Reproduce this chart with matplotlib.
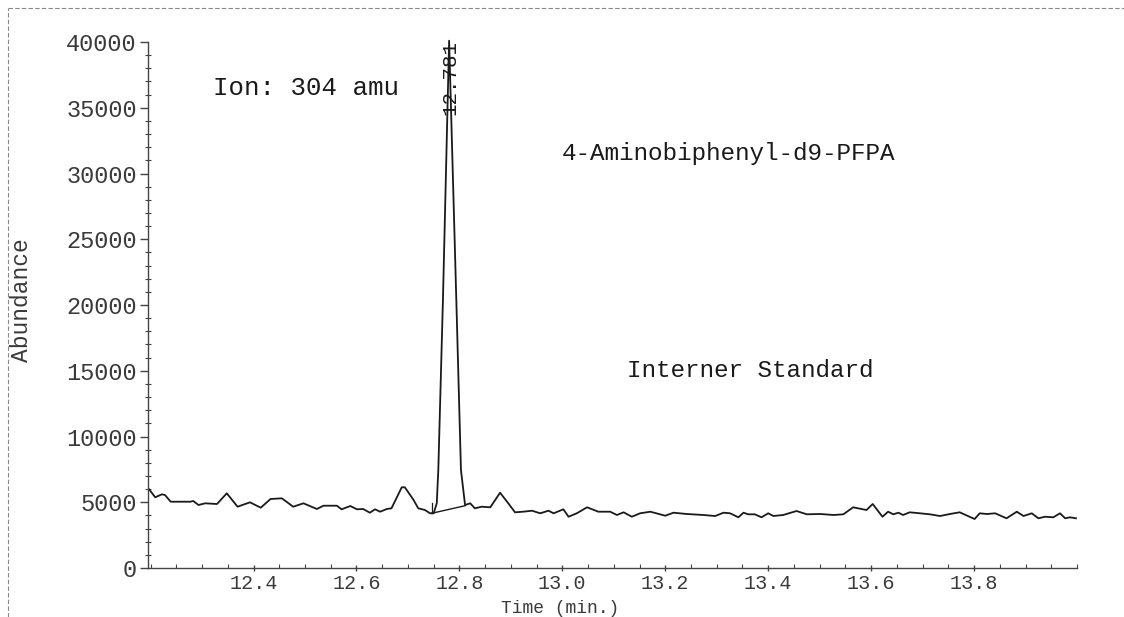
import matplotlib.pyplot as plt
from matplotlib.ticker import MultipleLocator, FixedLocator
from matplotlib.lines import Line2D

# chromatogram trace, ion 304 amu
time_min = [12.197, 12.209, 12.222, 12.228, 12.239, 12.277, 12.283, 12.293, 12.306, 12.329,
            12.348, 12.369, 12.393, 12.414, 12.433, 12.455, 12.477, 12.497, 12.523, 12.536,
            12.562, 12.571, 12.588, 12.601, 12.613, 12.626, 12.636, 12.646, 12.659, 12.668,
            12.688, 12.694, 12.711, 12.720, 12.733, 12.743, 12.750, 12.756, 12.759, 12.768,
            12.780, 12.794, 12.803, 12.811, 12.821, 12.830, 12.843, 12.860, 12.879, 12.895,
            12.908, 12.924, 12.941, 12.957, 12.973, 12.983, 13.002, 13.012, 13.028, 13.048,
            13.070, 13.093, 13.106, 13.119, 13.135, 13.151, 13.171, 13.200, 13.216, 13.242,
            13.274, 13.297, 13.313, 13.326, 13.342, 13.352, 13.361, 13.374, 13.387, 13.400,
            13.410, 13.429, 13.455, 13.475, 13.501, 13.527, 13.546, 13.565, 13.591, 13.603,
            13.622, 13.633, 13.643, 13.653, 13.662, 13.675, 13.695, 13.714, 13.734, 13.753,
            13.772, 13.788, 13.801, 13.811, 13.825, 13.841, 13.863, 13.883, 13.896, 13.912,
            13.925, 13.938, 13.954, 13.967, 13.977, 13.986, 13.998]
abundance = [5985, 5377, 5605, 5550, 5042, 5042, 5095, 4791, 4920, 4867,
             5681, 4662, 4996, 4586, 5247, 5301, 4662, 4920, 4487, 4738,
             4738, 4464, 4715, 4464, 4487, 4206, 4464, 4282, 4487, 4540,
             6137, 6137, 5171, 4540, 4411, 4160, 4160, 4920, 7453, 20381,
             40100, 20381, 7453, 4791, 4920, 4540, 4662, 4616, 5727, 4920,
             4236, 4282, 4358, 4160, 4358, 4160, 4464, 3901, 4160, 4616,
             4282, 4282, 4031, 4236, 3901, 4160, 4282, 3977, 4206, 4107,
             4031, 3955, 4206, 4160, 3856, 4206, 4084, 4084, 3856, 4160,
             3955, 4031, 4335, 4084, 4107, 4031, 4084, 4616, 4411, 4867,
             3901, 4282, 4084, 4206, 4031, 4236, 4160, 4084, 3955, 4107,
             4236, 3955, 3726, 4160, 4107, 4160, 3780, 4282, 3955, 4160,
             3780, 3901, 3856, 4160, 3780, 3856, 3780]

# integration baseline under the peak
base_t = [12.746, 12.811]
base_y = [4160, 4738]
peak_rt = 12.781

x_ticks = [12.4, 12.6, 12.8, 13.0, 13.2, 13.4, 13.6, 13.8]
y_ticks = [0, 5000, 10000, 15000, 20000, 25000, 30000, 35000, 40000]

mono = ['Liberation Mono', 'DejaVu Sans Mono']
ink = '#1a1a1a'
grey = '#3a3a3a'

fig = plt.figure(figsize=(11.24, 6.17), dpi=100)
ax = fig.add_axes([0.1317, 0.0794, 0.8265, 0.8525])

ax.plot(time_min, abundance, color=ink, lw=1.3, clip_on=False)
ax.plot(base_t, base_y, color=ink, lw=1.0)
# start-of-peak marker
ax.plot([base_t[0], base_t[0]], [base_y[0], base_y[0] + 800], color=ink, lw=0.9)

ax.set_xlim(12.195, 14.0)
ax.set_ylim(0, 40000)

for s in ['top', 'right']:
    ax.spines[s].set_visible(False)
for s in ['left', 'bottom']:
    ax.spines[s].set_color('#444444')
    ax.spines[s].set_linewidth(1.0)

ax.xaxis.set_major_locator(FixedLocator(x_ticks))
ax.xaxis.set_minor_locator(MultipleLocator(0.05))
ax.yaxis.set_major_locator(FixedLocator(y_ticks))
ax.yaxis.set_minor_locator(MultipleLocator(1000))
ax.set_xticklabels(['%.1f' % t for t in x_ticks], family=mono, fontsize=14.5, color=grey)
ax.set_yticklabels([str(v) for v in y_ticks], family=mono, fontsize=17, color=grey)
ax.tick_params(axis='y', which='major', direction='out', length=6, width=1, color='#444444', pad=2)
ax.tick_params(axis='y', which='minor', direction='inout', length=4, width=0.8, color='#444444')
ax.tick_params(axis='x', which='major', direction='inout', length=5, width=1, color='#444444', pad=2)
ax.tick_params(axis='x', which='minor', direction='in', length=3, width=0.8, color='#444444')

# axis titles
fig.text((148 + 0.4435 * 929) / 1124, 0.0005, 'Time (min.)', family=mono, fontsize=13,
         color=grey, ha='center', va='bottom')
ax.set_ylabel('Abundance', family=mono, fontsize=16.5, color=grey)
ax.yaxis.set_label_coords(-0.124, 0.51, transform=ax.transAxes)

ax.text(12.321, 36500, 'Ion: 304 amu', family=mono, fontsize=18.5, color=ink, va='center')
ax.text(12.999, 31560, '4-Aminobiphenyl-d9-PFPA', family=mono, fontsize=17.5, color=ink, va='center')
ax.text(13.126, 15058, 'Interner Standard', family=mono, fontsize=17.5, color=ink, va='center')
ax.text(peak_rt, 37300, '%.3f' % peak_rt, family=mono, fontsize=15, color=ink,
        rotation=90, ha='center', va='center')

# dashed page frame
fig.add_artist(Line2D([8 / 1124, 1], [1 - 8 / 617] * 2, transform=fig.transFigure,
                      color='#888888', lw=0.8, ls=(0, (4, 2))))
fig.add_artist(Line2D([8 / 1124] * 2, [0, 1 - 8 / 617], transform=fig.transFigure,
                      color='#888888', lw=0.8, ls=(0, (4, 2))))

fig.savefig('out.png', dpi=100)
